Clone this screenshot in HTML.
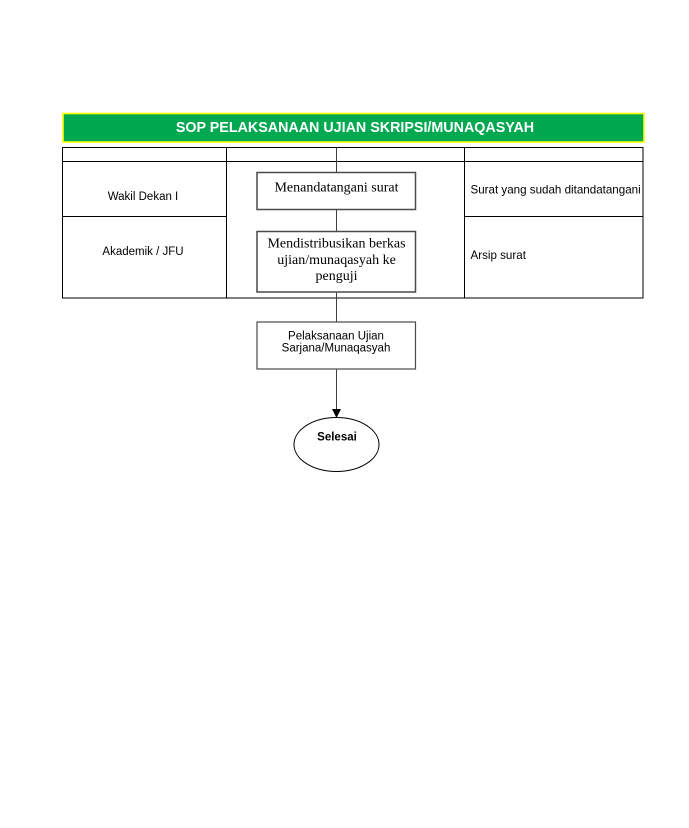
<!DOCTYPE html>
<html>
<head>
<meta charset="utf-8">
<style>
  html, body { margin: 0; padding: 0; background: #ffffff; }
  body { width: 689px; height: 828px; position: relative; overflow: hidden; }
  svg { position: absolute; left: 0; top: 0; }
  .sans { font-family: "Liberation Sans", Arial, sans-serif; }
  .serif { font-family: "Liberation Serif", "Times New Roman", serif; }
</style>
</head>
<body>
<svg width="689" height="828" viewBox="0 0 689 828" xmlns="http://www.w3.org/2000/svg">
  <!-- Title bar -->
  <rect x="63" y="113.5" width="581" height="28.5" fill="#00a84f" stroke="#ffff00" stroke-width="1.6"/>
  <text x="355" y="132" class="sans" font-size="14.3" font-weight="bold" fill="#ffffff" text-anchor="middle">SOP PELAKSANAAN UJIAN SKRIPSI/MUNAQASYAH</text>

  <!-- Table -->
  <g stroke="#000000" stroke-width="1" fill="none">
    <rect x="62.5" y="147.5" width="580.5" height="150.5"/>
    <line x1="62.5" y1="161.5" x2="643" y2="161.5"/>
    <line x1="226.5" y1="147.5" x2="226.5" y2="298"/>
    <line x1="464.5" y1="147.5" x2="464.5" y2="298"/>
    <line x1="62.5" y1="216.5" x2="226.5" y2="216.5"/>
    <line x1="464.5" y1="216.5" x2="643" y2="216.5"/>
  </g>

  <!-- Connectors -->
  <g stroke="#404040" stroke-width="1" fill="none">
    <line x1="336.5" y1="147.5" x2="336.5" y2="172.5"/>
    <line x1="336.5" y1="209.5" x2="336.5" y2="231.5"/>
    <line x1="336.5" y1="292" x2="336.5" y2="322"/>
    <line x1="336.5" y1="369" x2="336.5" y2="410"/>
  </g>
  <polygon points="332,409 341,409 336.5,418" fill="#000000"/>

  <!-- Process boxes -->
  <rect x="257" y="172.5" width="158.5" height="37" fill="#ffffff" stroke="#4a4a4a" stroke-width="1.5"/>
  <rect x="257" y="231.5" width="158.5" height="60.5" fill="#ffffff" stroke="#4a4a4a" stroke-width="1.5"/>
  <rect x="257" y="322" width="158.5" height="47" fill="#ffffff" stroke="#4a4a4a" stroke-width="1.2"/>

  <!-- End ellipse -->
  <ellipse cx="336.5" cy="444.5" rx="42.5" ry="27" fill="#ffffff" stroke="#000000" stroke-width="1"/>

  <!-- Lane labels -->
  <text x="143" y="200" class="sans" font-size="11.5" fill="#000" text-anchor="middle">Wakil Dekan I</text>
  <text x="143" y="255" class="sans" font-size="11.5" fill="#000" text-anchor="middle">Akademik / JFU</text>

  <!-- Output labels -->
  <text x="470.5" y="193.5" class="sans" font-size="11.6" fill="#000">Surat yang sudah ditandatangani</text>
  <text x="470.5" y="259" class="sans" font-size="11.6" fill="#000">Arsip surat</text>

  <!-- Box texts -->
  <text x="336.5" y="191.5" class="serif" font-size="14" fill="#000" text-anchor="middle">Menandatangani surat</text>
  <text x="336.5" y="247.7" class="serif" font-size="14" fill="#000" text-anchor="middle">Mendistribusikan berkas</text>
  <text x="336.5" y="264" class="serif" font-size="14" fill="#000" text-anchor="middle">ujian/munaqasyah ke</text>
  <text x="336.5" y="280" class="serif" font-size="14" fill="#000" text-anchor="middle">penguji</text>

  <text x="336" y="339.3" class="sans" font-size="11.5" fill="#000" text-anchor="middle">Pelaksanaan Ujian</text>
  <text x="336" y="351.5" class="sans" font-size="11.5" fill="#000" text-anchor="middle">Sarjana/Munaqasyah</text>

  <text x="337" y="440.7" class="sans" font-size="11.5" font-weight="bold" fill="#000" text-anchor="middle">Selesai</text>
</svg>
</body>
</html>
